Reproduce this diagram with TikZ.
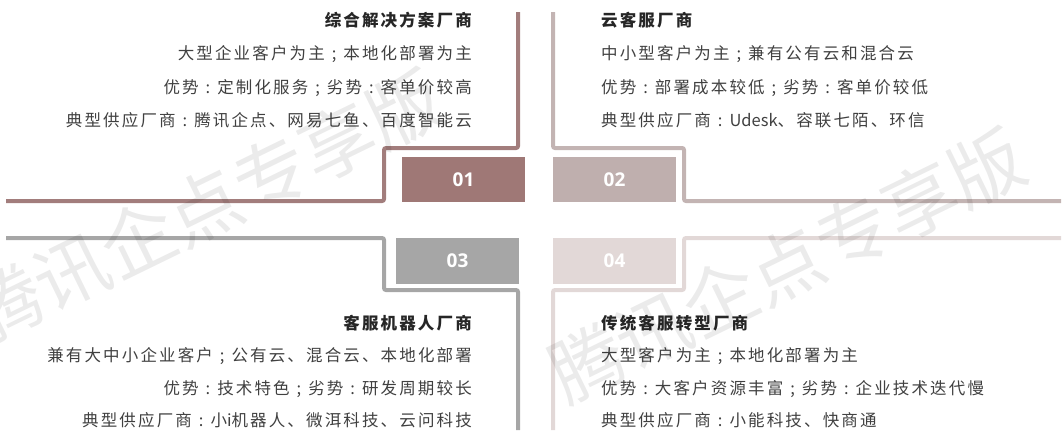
\documentclass[tikz,border=0pt]{standalone}
\usepackage{fontspec}
\setmainfont{Noto Sans CJK SC}
\newfontfamily\cjk[LetterSpace=13]{Noto Sans CJK SC}
\newfontfamily\cjkn{Noto Sans CJK SC}
\newfontfamily\numfont{Open Sans}
\newfontfamily\wmfont{Noto Sans CJK SC}
\newcommand\zcol{\makebox[18.6pt][c]{\cjkn :}}
\newcommand\zsem{\makebox[18.6pt][c]{\cjkn ;}}
\definecolor{cA}{HTML}{9F7876}
\definecolor{cAl}{HTML}{A27D7C}
\definecolor{cB}{HTML}{BFAFAE}
\definecolor{cBl}{HTML}{C3B4B3}
\definecolor{cC}{HTML}{A6A6A6}
\definecolor{cD}{HTML}{E2D8D7}
\definecolor{ctitle}{HTML}{262626}
\definecolor{cbody}{HTML}{404040}
\tikzset{
  qline/.style={line width=4pt, rounded corners=2pt},
  numbox/.style={minimum width=123pt, minimum height=45.5pt, inner sep=0pt, draw=none,
    font=\numfont\bfseries\fontsize{19}{19}\selectfont, text=white},
  ttl/.style={font=\cjk\bfseries\fontsize{16.5}{18}\selectfont, text=ctitle, inner sep=0pt},
  bdy/.style={font=\cjk\fontsize{16.5}{18}\selectfont, text=cbody, inner sep=0pt},
  wmark/.style={font=\wmfont\fontsize{74}{74}\selectfont, text=black, text opacity=0.08, inner sep=0pt, rotate=26}
}
\begin{document}
\begin{tikzpicture}[x=1pt,y=-1pt]
\useasboundingbox (0,0) rectangle (1063,434);
% corner lines
\draw[qline, cAl] (6,201) -- (384,201) -- (384,148) -- (518,148) -- (518,12);
\draw[qline, cBl] (1061,201) -- (684,201) -- (684,148) -- (553,148) -- (553,12);
\draw[qline, cC] (6,238) -- (384,238) -- (384,290) -- (518,290) -- (518,430);
\draw[qline, cD] (1061,238) -- (684,238) -- (684,290) -- (553,290) -- (553,430);
% number boxes
\node[numbox, fill=cA] (b1) at (463.5,179.5) {01};
\node[numbox, fill=cB] (b2) at (614.5,179.5) {02};
\node[numbox, fill=cC] (b3) at (457.5,261) {03};
\node[numbox, fill=cD] (b4) at (614.5,261) {04};
% quadrant 1
\node[ttl, anchor=base east] (t1) at (472,26.3) {综合解决方案厂商};
\node[bdy, anchor=base east] (t1a) at (472,59.3) {大型企业客户为主\zsem 本地化部署为主};
\node[bdy, anchor=base east] (t1b) at (472,93.3) {优势\zcol 定制化服务\zsem 劣势\zcol 客单价较高};
\node[bdy, anchor=base east] (t1c) at (472,126.3) {典型供应厂商\zcol 腾讯企点、网易七鱼、百度智能云};
% quadrant 2
\node[ttl, anchor=base west] (t2) at (601,26.3) {云客服厂商};
\node[bdy, anchor=base west] (t2a) at (601,59.3) {中小型客户为主\zsem 兼有公有云和混合云};
\node[bdy, anchor=base west] (t2b) at (601,93.3) {优势\zcol 部署成本较低\zsem 劣势\zcol 客单价较低};
\node[bdy, anchor=base west] (t2c) at (601,126.3) {典型供应厂商\zcol{\cjkn Udesk}、容联七陌、环信};
% quadrant 3
\node[ttl, anchor=base east] (t3) at (472,329.5) {客服机器人厂商};
\node[bdy, anchor=base east] (t3a) at (472,361.5) {兼有大中小企业客户\zsem 公有云、混合云、本地化部署};
\node[bdy, anchor=base east] (t3b) at (472,394) {优势\zcol 技术特色\zsem 劣势\zcol 研发周期较长};
\node[bdy, anchor=base east] (t3c) at (472,426.5) {典型供应厂商\zcol 小{\cjkn i}机器人、微洱科技、云问科技};
% quadrant 4
\node[ttl, anchor=base west] (t4) at (601,329.5) {传统客服转型厂商};
\node[bdy, anchor=base west] (t4a) at (601,361.5) {大型客户为主\zsem 本地化部署为主};
\node[bdy, anchor=base west] (t4b) at (601,394) {优势\zcol 大客户资源丰富\zsem 劣势\zcol 企业技术迭代慢};
\node[bdy, anchor=base west] (t4c) at (601,426.5) {典型供应厂商\zcol 小能科技、快商通};
% watermark
\node[wmark] (w1) at (205,207) {腾讯企点专享版};
\node[wmark] (w2) at (787,266) {腾讯企点专享版};
\end{tikzpicture}
\end{document}
